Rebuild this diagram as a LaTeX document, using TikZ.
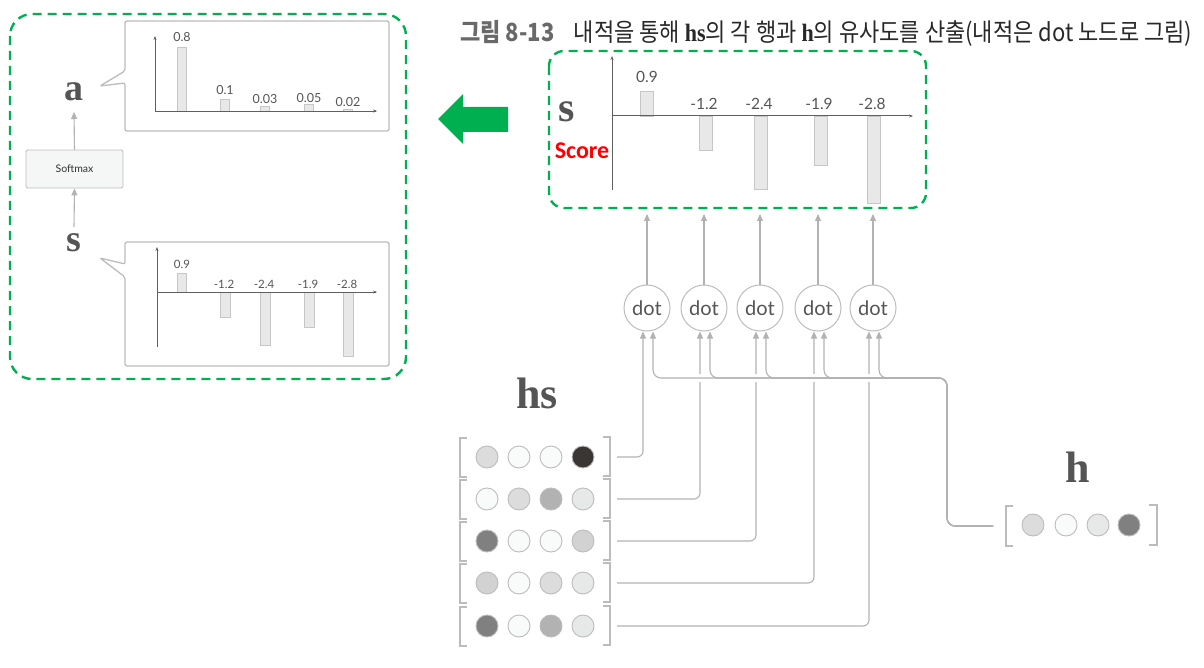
\documentclass[tikz,border=0pt]{standalone}
\usepackage{fontspec}
\usepackage{graphicx}
\setmainfont{Lato}
\newfontfamily\kr{Noto Sans CJK KR}
\newfontfamily\serifb{Liberation Serif}
\newfontfamily\carl{Carlito}
\usetikzlibrary{arrows.meta}
\definecolor{grn}{RGB}{0,176,80}
\definecolor{lgray}{RGB}{188,188,188}
\definecolor{agray}{RGB}{178,178,178}
\definecolor{txtgray}{RGB}{85,85,85}
\definecolor{bargray}{RGB}{232,232,232}
\definecolor{barline}{RGB}{198,198,198}
\definecolor{axisc}{RGB}{95,95,95}
\definecolor{cA}{RGB}{220,220,220}
\definecolor{cW}{RGB}{249,250,250}
\definecolor{cL}{RGB}{231,232,232}
\definecolor{cM}{RGB}{178,178,178}
\definecolor{cD}{RGB}{128,128,128}
\definecolor{cK}{RGB}{58,54,52}
\definecolor{cG}{RGB}{210,210,210}
\definecolor{smfill}{RGB}{244,247,245}
\newcommand{\bser}[1]{{\serifb\bfseries #1}}
\tikzset{
  greenbox/.style={draw=grn, line width=2.4pt, dash pattern=on 9pt off 6pt},
  gline/.style={draw=lgray, line width=1.1pt},
  garrow/.style={draw=agray, line width=1.1pt, -{Triangle[length=7pt,width=6pt]}},
  barbox/.style={fill=bargray, draw=barline, line width=0.8pt},
  axis/.style={draw=axisc, line width=0.8pt, -{Stealth[length=4pt,width=3pt]}},
  panel/.style={draw=lgray, fill=white, line width=1.3pt, rounded corners=2pt},
  circ/.style={circle, minimum size=22pt, inner sep=0pt, draw=lgray, line width=0.9pt},
  dotnode/.style={circle, minimum size=46pt, inner sep=0pt, draw=lgray, line width=1pt, font=\fontsize{20}{22}\selectfont, text=txtgray},
  bigser/.style={font=\fontsize{44}{48}\selectfont\serifb\bfseries, text=txtgray},
  lbl/.style={text=txtgray},
  brk/.style={draw=lgray, line width=1.8pt},
}
\begin{document}
\begin{tikzpicture}[x=1pt, y=-1pt]
\useasboundingbox (0,0) rectangle (1204,668);

% ---------- caption ----------
\node[anchor=west, inner sep=0pt] (caption) at (460,33) {\resizebox{732pt}{\height}{\kr\fontsize{25}{28}\selectfont{\bfseries\color[RGB]{105,105,105}그림 8-13}\hspace{22pt}{\color[RGB]{40,40,40}내적을 통해 \bser{hs}의 각 행과 \bser{h}의 유사도를 산출(내적은 dot 노드로 그림)}}};

% ---------- left panel ----------
\draw[greenbox, rounded corners=22pt] (10,14) rectangle (406,379);
\draw[panel] (125,21) -- (389,21) -- (389,131) -- (125,131) -- (125,83) -- (100,86) -- (125,71) -- cycle;
\draw[panel] (125,242) -- (389,242) -- (389,366) -- (125,366) -- (125,277) -- (100,258) -- (125,264) -- cycle;

\node[bigser, font=\fontsize{38}{40}\selectfont\serifb\bfseries] (alab) at (74,92) {a};
\node[bigser, font=\fontsize{38}{40}\selectfont\serifb\bfseries] (slab) at (74,243) {s};
\node[draw=lgray, fill=smfill, line width=0.9pt, rounded corners=1.5pt, minimum width=97pt, minimum height=38pt, font=\fontsize{10.5}{12}\selectfont, text=black!80] (sm) at (74.5,169) {Softmax};
\coordinate (sbot) at (74,227);
\coordinate (atop) at (74,112);
\draw[garrow] (sbot) -- (sm.south);
\draw[garrow] (sm.north) -- (atop);

% top-left chart (a)
\draw[axis] (155,111) -- (155,36);
\draw[axis] (155,111) -- (377,111);
\foreach \xa/\yt/\t/\ly in {177/47/0.8/37, 220/99/0.1/90, 260/106/0.03/99, 304/104/0.05/98, 343/109/0.02/102}{
  \draw[barbox] (\xa,\yt) rectangle (\xa+9,111);
  \node[lbl, font=\fontsize{12.5}{14}\selectfont] at (\xa+5,\ly) {\t};
}
\draw[axisc, line width=0.8pt] (155,111) -- (376,111);

% bottom-left chart (s)
\draw[axis] (157,347) -- (157,247);
\draw[axis] (157,292) -- (377,292);
\draw[barbox] (177,273) rectangle (186,292);
\node[lbl, font=\fontsize{11.5}{13}\selectfont] at (182,264) {0.9};
\foreach \xa/\yb/\t in {220/317/-1.2, 260/345/-2.4, 304/327/-1.9, 343/356/-2.8}{
  \draw[barbox] (\xa,292) rectangle (\xa+10,\yb);
  \node[lbl, font=\fontsize{11.5}{13}\selectfont] at (\xa+4,284) {\t};
}
\draw[axisc, line width=0.8pt] (157,292) -- (376,292);

% ---------- green arrow ----------
\fill[grn] (438,119) -- (463,94) -- (463,107) -- (508,107) -- (508,132) -- (463,132) -- (463,144) -- cycle;

% ---------- right score panel ----------
\draw[greenbox, rounded corners=15pt] (549,51) rectangle (926,208);
\node[bigser, font=\fontsize{42}{44}\selectfont\serifb\bfseries] (sr) at (567,112) {s};
\node[text=red, font=\fontsize{24}{26}\selectfont\carl\bfseries] (score) at (582,151) {Score};
\draw[axis, line width=1pt] (612,190) -- (612,56);
\draw[axis, line width=1pt] (612,116) -- (913,116);
\draw[barbox] (640,91) rectangle (653,116);
\node[lbl, font=\fontsize{15.5}{17}\selectfont] at (647,77) {0.9};
\foreach \xa/\yb/\t in {699/150/-1.2, 754/189/-2.4, 814/165/-1.9, 867/203/-2.8}{
  \draw[barbox] (\xa,116) rectangle (\xa+13,\yb);
  \node[lbl, font=\fontsize{15.5}{17}\selectfont] at (\xa+5,104) {\t};
}
\draw[axisc, line width=1pt] (612,116) -- (911,116);

% ---------- dot nodes ----------
\foreach \i/\x in {1/647, 2/704, 3/760, 4/818, 5/873}{
  \node[dotnode] (d\i) at (\x,308) {dot};
  \coordinate (s\i) at (\x,214);
  \draw[garrow] (d\i.north) -- (s\i);
}

% ---------- hs matrix ----------
\node[bigser] (hslab) at (537,393) {hs};
\foreach \r/\y/\ca/\cb/\cc/\cd in {1/457/cA/cW/cW/cK, 2/499/cW/cA/cM/cL, 3/541/cD/cW/cW/cG, 4/583/cG/cW/cA/cL, 5/626/cD/cW/cM/cL}{
  \node[circ, fill=\ca] (r\r c1) at (487,\y) {};
  \node[circ, fill=\cb] (r\r c2) at (519,\y) {};
  \node[circ, fill=\cc] (r\r c3) at (551,\y) {};
  \node[circ, fill=\cd] (r\r c4) at (583,\y) {};
  \draw[brk] (467,\y-19) -- (460,\y-19) -- (460,\y+20) -- (467,\y+20);
  \draw[brk] (603,\y-20) -- (610,\y-20) -- (610,\y+19) -- (603,\y+19);
  \coordinate (row\r) at (617,\y);
}

% rows -> dot left inputs
\foreach \i in {1,...,5}{
  \draw[garrow, rounded corners=6pt] (row\i) -| ([xshift=-4pt]d\i.south);
}

% gap where h bus crosses
\draw[white, line width=8pt] (662,378) -- (940,378);

% ---------- h vector ----------
\node[bigser] (hlab) at (1078,467) {h};
\node[circ, fill=cA] (h1) at (1033,525) {};
\node[circ, fill=cW] (h2) at (1066,525) {};
\node[circ, fill=cL] (h3) at (1098,525) {};
\node[circ, fill=cD] (h4) at (1129,525) {};
\draw[brk] (1013,506) -- (1006,506) -- (1006,546) -- (1013,546);
\draw[brk] (1149,505) -- (1157,505) -- (1157,545) -- (1149,545);
\coordinate (hin) at (993,526);
\coordinate (hcorner) at (947,378);

\foreach \i in {1,...,5}{
  \draw[garrow, rounded corners=8pt] (hin) -- (947,526) -- (hcorner) -| ([xshift=6pt]d\i.south);
}
\end{tikzpicture}
\end{document}
